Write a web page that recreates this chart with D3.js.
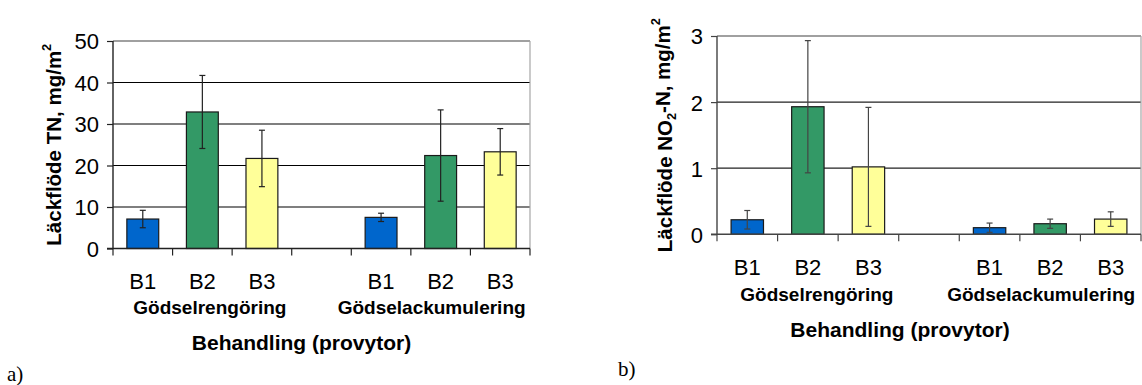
<!DOCTYPE html>
<html>
<head>
<meta charset="utf-8">
<script src="https://cdn.jsdelivr.net/npm/d3@7"></script>
<style>
  body { margin: 0; background: #fff; }
  svg { font-family: Arial, "Liberation Sans", sans-serif; }
</style>
</head>
<body>
<svg id="chart" width="1142" height="385"></svg>
<script>
// ---- Data ----
const categories = ["B1", "B2", "B3"];
const groups = ["Gödselrengöring", "Gödselackumulering"];
const colors = ["#0066CC", "#339966", "#FFFF99"];

// Panel a: Läckflöde TN (mg/m2), order: group1 B1..B3, group2 B1..B3
const tnValues = [7.1, 32.9, 21.7, 7.5, 22.4, 23.3];
const tnErr    = [2.1, 8.8, 6.8, 1.0, 11.0, 5.6];
const tnTicks  = [0, 10, 20, 30, 40, 50];

// Panel b: Läckflöde NO2-N (mg/m2)
const no2Values = [0.22, 1.93, 1.02, 0.10, 0.16, 0.23];
const no2Err    = [0.14, 1.00, 0.90, 0.07, 0.07, 0.11];
const no2Ticks  = [0, 1, 2, 3];

const xTitle = "Behandling (provytor)";

const svg = d3.select("#chart");

// slot keys: group1 B1..B3, gap, group2 B1..B3
const slots = [];
groups.forEach((g, gi) => {
  categories.forEach(c => slots.push(gi + "-" + c));
  if (gi < groups.length - 1) slots.push("gap" + gi);
});

function panel(cfg) {
  const g = svg.append("g");
  const x = d3.scaleBand().domain(slots).range([cfg.left, cfg.right]).padding(0);
  const y = d3.scaleLinear().domain([0, d3.max(cfg.ticks)]).range([cfg.bottom, cfg.top]);

  // gridlines
  g.append("g").selectAll("line").data(cfg.ticks.filter(t => t > 0 && t < d3.max(cfg.ticks)))
    .join("line")
    .attr("x1", cfg.left).attr("x2", cfg.right)
    .attr("y1", d => y(d)).attr("y2", d => y(d))
    .attr("stroke", cfg.gridColor).attr("stroke-width", 1.2);

  // top & right border
  g.append("line").attr("x1", cfg.left).attr("x2", cfg.right)
    .attr("y1", y(d3.max(cfg.ticks))).attr("y2", y(d3.max(cfg.ticks)))
    .attr("stroke", "#808080").attr("stroke-width", 1.3);
  g.append("line").attr("x1", cfg.right).attr("x2", cfg.right)
    .attr("y1", cfg.top).attr("y2", cfg.bottom)
    .attr("stroke", "#a6a6a6").attr("stroke-width", 1.2);

  // bars
  const data = cfg.values.map((v, i) => ({
    key: Math.floor(i / categories.length) + "-" + categories[i % categories.length],
    v, e: cfg.err[i], color: colors[i % categories.length]
  }));
  const bw = x.bandwidth() * 0.535;
  g.append("g").selectAll("rect").data(data).join("rect")
    .attr("x", d => x(d.key) + (x.bandwidth() - bw) / 2)
    .attr("width", bw)
    .attr("y", d => y(d.v))
    .attr("height", d => y(0) - y(d.v))
    .attr("fill", d => d.color)
    .attr("stroke", "#1a1a1a").attr("stroke-width", 1.2);

  // error bars
  const eb = g.append("g").attr("stroke", cfg.errColor).attr("stroke-width", 1.2);
  data.forEach(d => {
    const cx = x(d.key) + x.bandwidth() / 2;
    eb.append("line").attr("x1", cx).attr("x2", cx).attr("y1", y(d.v + d.e)).attr("y2", y(Math.max(0, d.v - d.e)));
    [d.v + d.e, Math.max(0, d.v - d.e)].forEach(val => {
      eb.append("line").attr("x1", cx - 3).attr("x2", cx + 3).attr("y1", y(val)).attr("y2", y(val));
    });
  });

  // y axis
  const yAxis = d3.axisLeft(y).tickValues(cfg.ticks).tickSize(6).tickPadding(8).tickFormat(d3.format("d"));
  const ya = g.append("g").attr("transform", `translate(${cfg.left},0)`).call(yAxis);
  ya.attr("font-family", null).attr("font-size", null);
  ya.select(".domain").attr("stroke", cfg.axisColor).attr("stroke-width", 1.4).attr("d", `M0,${cfg.top}V${cfg.bottom}`);
  ya.selectAll(".tick line").attr("stroke", cfg.axisColor).attr("stroke-width", 1.2);
  ya.selectAll(".tick text").attr("font-size", cfg.tickFont).attr("fill", "#000").attr("dy", "0.36em");

  // x axis baseline and tick marks at slot boundaries
  g.append("line").attr("x1", cfg.left - 6).attr("x2", cfg.right)
    .attr("y1", y(0)).attr("y2", y(0)).attr("stroke", cfg.axisColor).attr("stroke-width", 1.4);
  const bounds = slots.map(s => x(s)).concat([cfg.right]);
  g.append("g").selectAll("line").data(bounds).join("line")
    .attr("x1", d => d).attr("x2", d => d).attr("y1", y(0)).attr("y2", y(0) + 7)
    .attr("stroke", cfg.axisColor).attr("stroke-width", 1.2);

  // category labels
  g.append("g").selectAll("text").data(data).join("text")
    .attr("x", d => x(d.key) + x.bandwidth() / 2)
    .attr("y", cfg.catY)
    .attr("text-anchor", "middle")
    .attr("font-size", cfg.tickFont)
    .text(d => d.key.split("-")[1]);

  // group labels
  groups.forEach((gr, gi) => {
    const mid = x(gi + "-" + categories[1]) + x.bandwidth() / 2 + cfg.groupOffsets[gi];
    g.append("text").attr("x", mid).attr("y", cfg.groupY)
      .attr("text-anchor", "middle").attr("font-weight", "bold").attr("font-size", cfg.groupFont)
      .text(gr);
  });

  // x title
  g.append("text").attr("x", (cfg.left + cfg.right) / 2 + cfg.titleOffset).attr("y", cfg.titleY)
    .attr("text-anchor", "middle").attr("font-weight", "bold").attr("font-size", cfg.xTitleFont)
    .text(xTitle);

  // y title
  const yt = g.append("text")
    .attr("transform", `translate(${cfg.yTitleX},${(cfg.top + cfg.bottom) / 2}) rotate(-90)`)
    .attr("text-anchor", "middle").attr("font-weight", "bold").attr("font-size", cfg.yTitleFont);
  cfg.yTitle.forEach(part => {
    const t = yt.append("tspan").text(part.t);
    if (part.sub) t.attr("font-size", cfg.yTitleFont * 0.62).attr("dy", "0.3em");
    if (part.sup) t.attr("font-size", cfg.yTitleFont * 0.62).attr("dy", "-0.75em");
    if (part.reset) t.attr("dy", part.reset);
  });

  // panel letter
  g.append("text").attr("x", cfg.letterX).attr("y", cfg.letterY)
    .style("font-family", "'Liberation Serif', 'Times New Roman', serif").attr("font-size", 21)
    .text(cfg.letter);
}

panel({
  left: 113, right: 530, top: 41, bottom: 248.5,
  values: tnValues, err: tnErr, ticks: tnTicks,
  gridColor: "#000", axisColor: "#222", errColor: "#222",
  tickFont: 22, groupFont: 19, xTitleFont: 21, yTitleFont: 20.5,
  catY: 289, groupY: 314, titleY: 350, titleOffset: -20,
  groupOffsets: [7.5, -9],
  yTitleX: 61,
  yTitle: [{t: "Läckflöde TN, mg/m"}, {t: "2", sup: true}],
  letter: "a)", letterX: 7, letterY: 381
});

panel({
  left: 717, right: 1141, top: 36, bottom: 234.3,
  values: no2Values, err: no2Err, ticks: no2Ticks,
  gridColor: "#222", axisColor: "#444", errColor: "#444",
  tickFont: 22, groupFont: 19, xTitleFont: 21, yTitleFont: 20.5,
  catY: 275, groupY: 301, titleY: 337, titleOffset: -29,
  groupOffsets: [9, -9],
  yTitleX: 672,
  yTitle: [{t: "Läckflöde NO"}, {t: "2", sub: true}, {t: "-N, mg/m", reset: "-0.3em"}, {t: "2", sup: true}],
  letter: "b)", letterX: 618, letterY: 376
});
</script>
</body>
</html>
